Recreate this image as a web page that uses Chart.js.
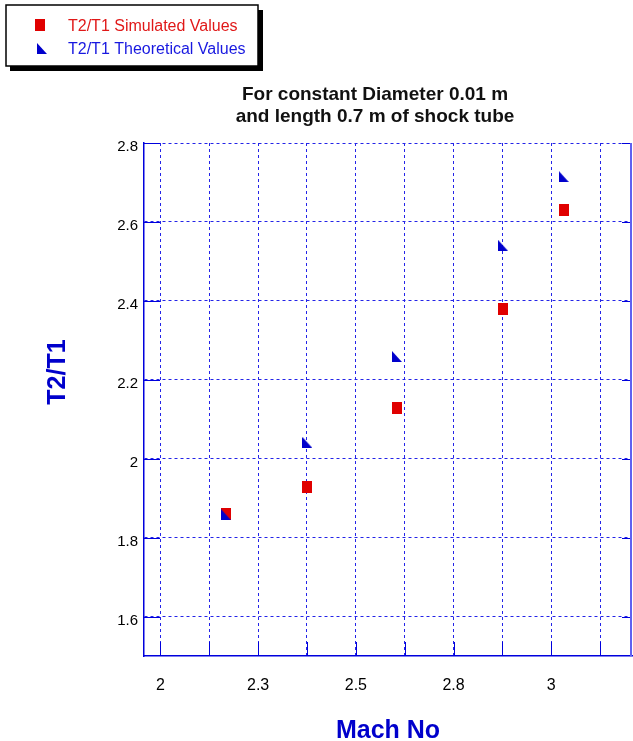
<!DOCTYPE html>
<html>
<head>
<meta charset="utf-8">
<title>T2/T1 vs Mach No</title>
<script src="https://cdn.jsdelivr.net/npm/chart.js@4.4.1/dist/chart.umd.min.js"></script>
<style>
  html, body { margin: 0; padding: 0; background: #fff; }
  #wrap { position: relative; width: 633px; height: 741px; }
  canvas { display: block; }
</style>
</head>
<body>
<div id="wrap"><canvas id="shockChart" width="633" height="741"></canvas></div>
<script>
// =============== Data =========================
const machNo = [2.168, 2.376, 2.605, 2.876, 3.032];
const t2t1Simulated = [1.859, 1.929, 2.129, 2.380, 2.631];
const t2t1Theoretical = [1.858, 2.041, 2.259, 2.541, 2.715];

const xTicks = [2, 2.125, 2.25, 2.375, 2.5, 2.625, 2.75, 2.875, 3, 3.125];
const xTickLabels = ['2', '', '2.3', '', '2.5', '', '2.8', '', '3', ''];
const yTicks = [1.6, 1.8, 2, 2.2, 2.4, 2.6, 2.8];
const yTickLabels = ['1.6', '1.8', '2', '2.2', '2.4', '2.6', '2.8'];

const titleLines = ['For constant Diameter 0.01 m', 'and length 0.7 m of shock tube'];
const legendLabels = ['T2/T1 Simulated Values', 'T2/T1 Theoretical Values'];

// =============== Markers =========================
const RED = '#e00000';
const BLUE = '#0000cc';
const GRID = '#2424e8';
const FONT = '"Liberation Sans", Arial, sans-serif';

function squareMarker() {
  const c = document.createElement('canvas');
  c.width = 10; c.height = 12;
  const g = c.getContext('2d');
  g.fillStyle = RED;
  g.fillRect(0, 0, 10, 12);
  return c;
}
function triangleMarker() {
  const c = document.createElement('canvas');
  c.width = 10; c.height = 11;
  const g = c.getContext('2d');
  g.fillStyle = BLUE;
  g.beginPath();
  g.moveTo(0, 0);
  g.lineTo(10, 11);
  g.lineTo(0, 11);
  g.closePath();
  g.fill();
  return c;
}
const squareImg = squareMarker();
const triImg = triangleMarker();

// =============== Extra drawing (ticks, titles, legend) =============
const decorPlugin = {
  id: 'decor',
  beforeDatasetsDraw(chart) {
    const { ctx, chartArea: a, scales: { x, y } } = chart;
    ctx.save();
    ctx.strokeStyle = '#0000dd';
    ctx.lineWidth = 1;
    ctx.beginPath();
    x.ticks.forEach(t => {
      const px = Math.round(x.getPixelForValue(t.value)) + 0.5;
      ctx.moveTo(px, a.bottom);
      ctx.lineTo(px, a.bottom - 14);
    });
    y.ticks.forEach(t => {
      const py = Math.round(y.getPixelForValue(t.value)) + 0.5;
      ctx.moveTo(a.left, py);
      ctx.lineTo(a.left + 16, py);
      ctx.moveTo(a.right, py);
      ctx.lineTo(a.right - 10, py);
    });
    ctx.stroke();
    // right frame
    ctx.strokeStyle = '#6060f0';
    ctx.lineWidth = 2;
    ctx.beginPath();
    ctx.moveTo(a.right - 1, a.top);
    ctx.lineTo(a.right - 1, a.bottom);
    ctx.stroke();
    ctx.restore();
  },
  afterDraw(chart) {
    const { ctx, chartArea: a } = chart;
    ctx.save();

    // title
    ctx.fillStyle = '#111';
    ctx.font = 'bold 19px ' + FONT;
    ctx.textAlign = 'center';
    ctx.textBaseline = 'alphabetic';
    ctx.fillText(titleLines[0], 375, 100);
    ctx.fillText(titleLines[1], 375, 122);

    // axis titles
    ctx.fillStyle = BLUE;
    ctx.font = 'bold 25px ' + FONT;
    ctx.fillText('Mach No', (a.left + a.right) / 2, 738);
    ctx.save();
    ctx.translate(65, 372);
    ctx.rotate(-Math.PI / 2);
    ctx.fillText('T2/T1', 0, 0);
    ctx.restore();

    // legend box with shadow
    ctx.fillStyle = '#000';
    ctx.fillRect(10, 10, 253, 61);
    ctx.fillStyle = '#fff';
    ctx.fillRect(6, 5, 252, 61);
    ctx.strokeStyle = '#000';
    ctx.lineWidth = 1.5;
    ctx.strokeRect(6, 5, 252, 61);

    ctx.drawImage(squareImg, 35, 19);
    ctx.drawImage(triImg, 37, 43);
    ctx.font = '16px ' + FONT;
    ctx.textAlign = 'left';
    ctx.fillStyle = '#e01818';
    ctx.fillText(legendLabels[0], 68, 31);
    ctx.fillStyle = '#1818e0';
    ctx.fillText(legendLabels[1], 68, 54);

    ctx.restore();
  }
};

// =============== Chart =========================
new Chart(document.getElementById('shockChart').getContext('2d'), {
  type: 'scatter',
  data: {
    datasets: [
      {
        label: legendLabels[0],
        data: machNo.map((m, i) => ({ x: m, y: t2t1Simulated[i] })),
        pointStyle: squareImg,
        backgroundColor: RED,
        borderColor: RED,
        order: 1
      },
      {
        label: legendLabels[1],
        data: machNo.map((m, i) => ({ x: m, y: t2t1Theoretical[i] })),
        pointStyle: triImg,
        backgroundColor: BLUE,
        borderColor: BLUE,
        order: 0
      }
    ]
  },
  options: {
    responsive: false,
    animation: false,
    events: [],
    layout: { autoPadding: false, padding: { top: 143, right: 1, bottom: 0, left: 0 } },
    plugins: {
      legend: { display: false },
      tooltip: { enabled: false },
      title: { display: false }
    },
    scales: {
      x: {
        type: 'linear',
        min: 1.958,
        max: 3.2065,
        afterFit: s => { s.height = 85; s.paddingLeft = 0; s.paddingRight = 0; },
        afterBuildTicks: s => { s.ticks = xTicks.map(v => ({ value: v })); },
        grid: { color: GRID, lineWidth: 1, drawTicks: false },
        border: { display: true, color: '#0000dd', width: 1.5, dash: [3, 3] },
        ticks: {
          color: '#000',
          font: { family: FONT, size: 16 },
          padding: 20,
          maxRotation: 0,
          autoSkip: false,
          callback: (v, i) => xTickLabels[i]
        }
      },
      y: {
        type: 'linear',
        min: 1.5,
        max: 2.8,
        afterFit: s => { s.width = 144; s.paddingTop = 0; s.paddingBottom = 0; },
        afterBuildTicks: s => { s.ticks = yTicks.map(v => ({ value: v })); },
        grid: { color: GRID, lineWidth: 1, drawTicks: false },
        border: { display: true, color: '#0000dd', width: 1.5, dash: [3, 3] },
        ticks: {
          color: '#000',
          font: { family: FONT, size: 15 },
          padding: 6,
          labelOffset: 4,
          autoSkip: false,
          callback: (v, i) => yTickLabels[i]
        }
      }
    }
  },
  plugins: [decorPlugin]
});
</script>
</body>
</html>
